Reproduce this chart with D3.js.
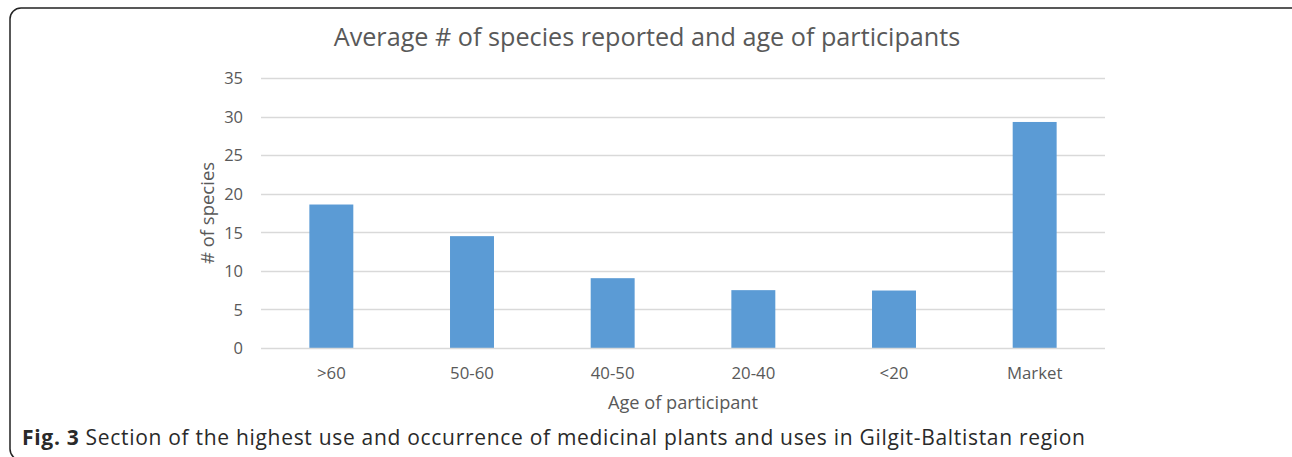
<!DOCTYPE html>
<html><head><meta charset="utf-8">
<script src="https://cdn.jsdelivr.net/npm/d3@7"></script>
<style>body{margin:0;background:#fff;}svg{display:block;}</style>
</head><body>
<svg id="c" width="1292" height="457"></svg>
<script>
const categories = [">60", "50-60", "40-50", "20-40", "<20", "Market"];
const values = [18.6, 14.5, 9.05, 7.5, 7.45, 29.3];
const yTicks = [0, 5, 10, 15, 20, 25, 30, 35];
const titleText = "Average # of species reported and age of participants";
const yTitle = "# of species";
const xTitle = "Age of participant";

const svg = d3.select("#c");
svg.append("rect").attr("x", 10).attr("y", 8).attr("width", 1300).attr("height", 452)
  .attr("rx", 11).attr("fill", "none").attr("stroke", "#222").attr("stroke-width", 1.5);

const m = {left: 261, right: 1105, top: 78, bottom: 348};
const x = d3.scaleBand().domain(categories).range([m.left, m.right]).paddingInner(0.6875).paddingOuter(0.34375);
const y = d3.scaleLinear().domain([0, 35]).range([m.bottom, m.top]);

const font = "'Open Sans', sans-serif";
const grey = "#595959";

// gridlines
svg.append("g").selectAll("line").data(yTicks.filter(d => d > 0)).join("line")
  .attr("x1", m.left).attr("x2", m.right)
  .attr("y1", d => Math.round(y(d)) + 0.5).attr("y2", d => Math.round(y(d)) + 0.5)
  .attr("stroke", "#d9d9d9").attr("stroke-width", 1.3);

// bars
svg.append("g").selectAll("rect").data(values).join("rect")
  .attr("x", (d, i) => x(categories[i])).attr("width", x.bandwidth())
  .attr("y", d => y(d)).attr("height", d => y(0) - y(d))
  .attr("fill", "#5b9bd5");

// baseline
svg.append("line").attr("x1", m.left).attr("x2", m.right)
  .attr("y1", y(0) + 0.5).attr("y2", y(0) + 0.5).attr("stroke", "#d9d9d9").attr("stroke-width", 1.5);

// y axis labels
const yAxis = d3.axisLeft(y).tickValues(yTicks).tickSize(0).tickPadding(0);
const gy = svg.append("g").attr("transform", `translate(243,0)`).call(yAxis);
gy.select(".domain").remove();
gy.selectAll("text").attr("font-family", font).attr("font-size", 16.5).attr("fill", grey).attr("dy", "0.35em");

// x axis labels
const xAxis = d3.axisBottom(x).tickSize(0).tickPadding(0);
const gx = svg.append("g").attr("transform", `translate(0,366)`).call(xAxis);
gx.select(".domain").remove();
gx.selectAll("text").attr("font-family", font).attr("font-size", 16.8).attr("fill", grey).attr("dy", "0.35em")
  .attr("y", 7);

// title
svg.append("text").attr("x", 647).attr("y", 46).attr("text-anchor", "middle")
  .attr("font-family", font).attr("font-size", 25.2).attr("fill", grey).text(titleText);

// axis titles
svg.append("text").attr("transform", "translate(214,213) rotate(-90)").attr("text-anchor", "middle")
  .attr("font-family", font).attr("font-size", 18.5).attr("fill", grey).text(yTitle);
svg.append("text").attr("x", 683).attr("y", 409).attr("text-anchor", "middle")
  .attr("font-family", font).attr("font-size", 18.2).attr("fill", grey).text(xTitle);

// caption
const cap = svg.append("text").attr("x", 22).attr("y", 445).attr("font-family", font).attr("font-size", 21).attr("fill", "#2a2a2a")
  .attr("textLength", 1063).attr("lengthAdjust", "spacing");
cap.append("tspan").attr("font-weight", "bold").text("Fig. 3");
cap.append("tspan").text(" Section of the highest use and occurrence of medicinal plants and uses in Gilgit-Baltistan region");
</script>
</body></html>
